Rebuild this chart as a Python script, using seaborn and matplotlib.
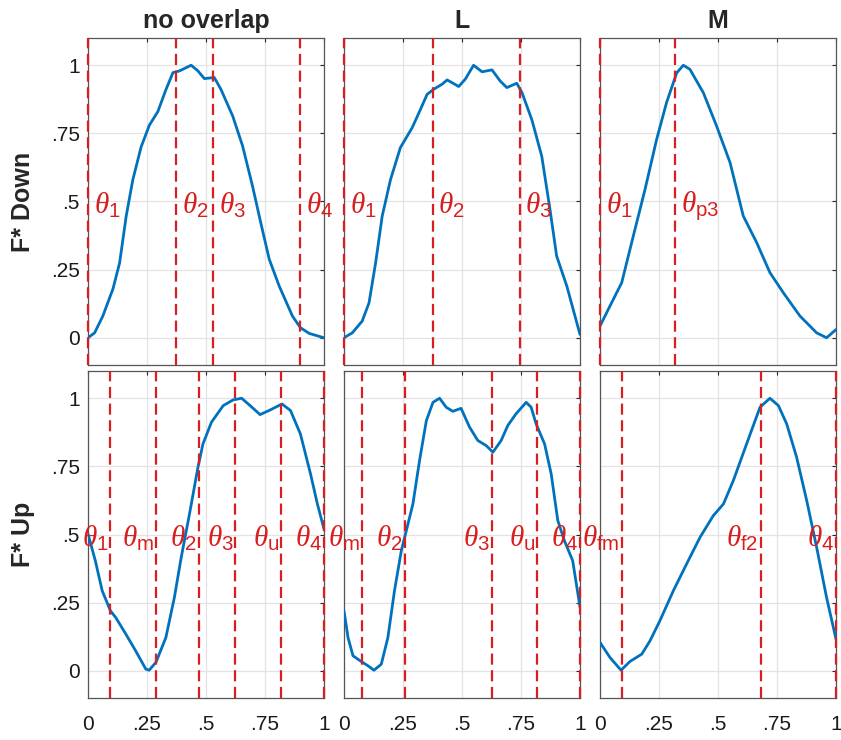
import matplotlib
matplotlib.use("Agg")
import matplotlib.pyplot as plt
import seaborn as sns
import pandas as pd

# traced curves (normalised time, normalised force)
down_none_x = [0, .028, .063, .106, .134, .162, .19, .225, .26, .296, .33, .36, .387, .437, .465, .493,
               .535, .563, .613, .655, .697, .732, .768, .81, .866, .9, .937, 1.0]
down_none_y = [0, .018, .08, .18, .275, .447, .58, .70, .78, .83, .91, .973, .979, 1.0, .98, .951,
               .955, .912, .814, .704, .557, .422, .288, .19, .08, .037, .016, 0]

down_L_x = [0, .035, .077, .106, .134, .162, .197, .239, .289, .324, .352, .38, .415, .437, .458, .486,
            .514, .549, .585, .627, .662, .69, .732, .754, .796, .838, .873, .901, .944, 1.0]
down_L_y = [0, .018, .061, .128, .275, .447, .58, .698, .771, .838, .893, .912, .93, .946, .936, .922,
            .949, 1.0, .976, .983, .942, .918, .934, .9, .80, .666, .47, .30, .19, .012]

down_M_x = [0, .042, .092, .141, .191, .24, .282, .325, .353, .381, .438, .494, .551, .607, .664, .72,
            .777, .847, .918, .96, 1.0]
down_M_y = [.043, .116, .202, .373, .545, .728, .863, .972, 1.0, .985, .899, .777, .643, .447, .349, .239,
            .165, .08, .018, 0, .03]

up_none_x = [0, .031, .06, .095, .117, .16, .202, .245, .259, .288, .33, .366, .395, .43, .466, .487,
             .523, .573, .615, .651, .687, .729, .772, .822, .858, .9, .943, .972, 1.0]
up_none_y = [.502, .404, .294, .22, .196, .135, .073, .006, .002, .031, .122, .269, .416, .575, .747, .832,
             .912, .973, .994, 1.0, .973, .94, .957, .979, .955, .869, .722, .612, .52]

up_L_x = [0, .017, .038, .073, .102, .127, .158, .186, .214, .243, .264, .292, .32, .349, .377, .405,
          .433, .461, .496, .532, .567, .603, .631, .666, .694, .729, .772, .793, .814, .85, .878, .906,
          .934, .969, 1.0]
up_L_y = [.22, .122, .055, .034, .018, .002, .024, .122, .294, .441, .514, .612, .771, .918, .985, 1.0,
          .967, .952, .963, .894, .845, .826, .802, .845, .9, .943, .985, .967, .906, .832, .722, .551,
          .477, .404, .233]

up_M_x = [0, .042, .089, .127, .177, .212, .254, .311, .367, .424, .48, .523, .565, .621, .678, .72,
          .756, .791, .833, .876, .918, .96, 1.0]
up_M_y = [.104, .049, .002, .034, .061, .11, .184, .294, .392, .49, .569, .612, .698, .832, .967, 1.0,
          .973, .906, .784, .624, .453, .269, .116]

# threshold lines and their labels
down_none_th = [0, .373, .531, .90]
down_none_lab = [r'$\theta_1$', r'$\theta_2$', r'$\theta_3$', r'$\theta_4$']
down_L_th = [0, .376, .744]
down_L_lab = [r'$\theta_1$', r'$\theta_2$', r'$\theta_3$']
down_M_th = [0, .318]
down_M_lab = [r'$\theta_1$', r'$\theta_{\mathrm{p3}}$']
up_none_th = [.095, .288, .469, .625, .819, 1.0]
up_none_lab = [r'$\theta_1$', r'$\theta_{\mathrm{m}}$', r'$\theta_2$', r'$\theta_3$', r'$\theta_{\mathrm{u}}$', r'$\theta_4$']
up_L_th = [.078, .257, .628, .818, 1.0]
up_L_lab = [r'$\theta_{\mathrm{m}}$', r'$\theta_2$', r'$\theta_3$', r'$\theta_{\mathrm{u}}$', r'$\theta_4$']
up_M_th = [.092, .681, 1.0]
up_M_lab = [r'$\theta_{\mathrm{fm}}$', r'$\theta_{\mathrm{f2}}$', r'$\theta_4$']

col_titles = ['no overlap', 'L', 'M']
row_labels = ['F* Down', 'F* Up']
tick_vals = [0, .25, .5, .75, 1]
tick_labs = ['0', '.25', '.5', '.75', '1']

sns.set_style("white")
plt.rcParams['font.family'] = ['Liberation Sans', 'DejaVu Sans']
plt.rcParams['mathtext.fontset'] = 'custom'
plt.rcParams['mathtext.rm'] = 'Liberation Sans'
plt.rcParams['mathtext.it'] = 'Liberation Serif:italic'

blue = '#0072BD'
red = '#d81e1e'

fig = plt.figure(figsize=(8.41, 7.4), dpi=100)
lefts = [88 / 841, 344 / 841, 600 / 841]
w = 236 / 841
bottoms = [1 - 365 / 740, 1 - 698 / 740]
h = 327 / 740

panels = [
    [(down_none_x, down_none_y, down_none_th, down_none_lab),
     (down_L_x, down_L_y, down_L_th, down_L_lab),
     (down_M_x, down_M_y, down_M_th, down_M_lab)],
    [(up_none_x, up_none_y, up_none_th, up_none_lab),
     (up_L_x, up_L_y, up_L_th, up_L_lab),
     (up_M_x, up_M_y, up_M_th, up_M_lab)],
]

for r in range(2):
    for c in range(3):
        xs, ys, th, lab = panels[r][c]
        ax = fig.add_axes([lefts[c], bottoms[r], w, h])
        ax.grid(True, color='#e3e3e3', linewidth=0.9, zorder=0)
        df = pd.DataFrame({'x': xs, 'y': ys})
        sns.lineplot(data=df, x='x', y='y', ax=ax, color=blue, linewidth=2.0, sort=False, zorder=3,
                     solid_joinstyle='round', solid_capstyle='round')
        for t, l in zip(th, lab):
            ax.axvline(t, color=red, linestyle=(0, (5, 2.5)), linewidth=1.6, zorder=4, clip_on=False)
            if r == 0:
                ax.annotate(l, xy=(t, 0.485), xytext=(4, 0), textcoords='offset points',
                            ha='left', va='center', color=red, fontsize=21,
                            annotation_clip=False, zorder=5)
            else:
                ax.annotate(l, xy=(t, 0.485), xytext=(-1.5, 0), textcoords='offset points',
                            ha='right', va='center', color=red, fontsize=21,
                            annotation_clip=False, zorder=5)
        ax.set_xlim(0, 1)
        ax.set_ylim(-0.1, 1.1)
        ax.set_xticks(tick_vals)
        ax.set_yticks(tick_vals)
        ax.tick_params(direction='in', length=3, width=0.8, color='#262626',
                       labelsize=15, labelcolor='#1a1a1a', top=True, right=True)
        ax.tick_params(axis='x', pad=12)
        ax.tick_params(axis='y', pad=6)
        if r == 1:
            ax.set_xticklabels(tick_labs)
        else:
            ax.set_xticklabels([])
            ax.set_title(col_titles[c], fontsize=18, fontweight='bold', pad=7)
        if c == 0:
            ax.set_yticklabels(tick_labs)
            ax.set_ylabel(row_labels[r], fontsize=18, fontweight='bold')
            ax.yaxis.set_label_coords(-0.225, 0.5)
        else:
            ax.set_yticklabels([])
            ax.set_ylabel('')
        ax.set_xlabel('')
        for s in ax.spines.values():
            s.set_color('#555555')
            s.set_linewidth(0.9)

fig.savefig('out.png', dpi=100)
